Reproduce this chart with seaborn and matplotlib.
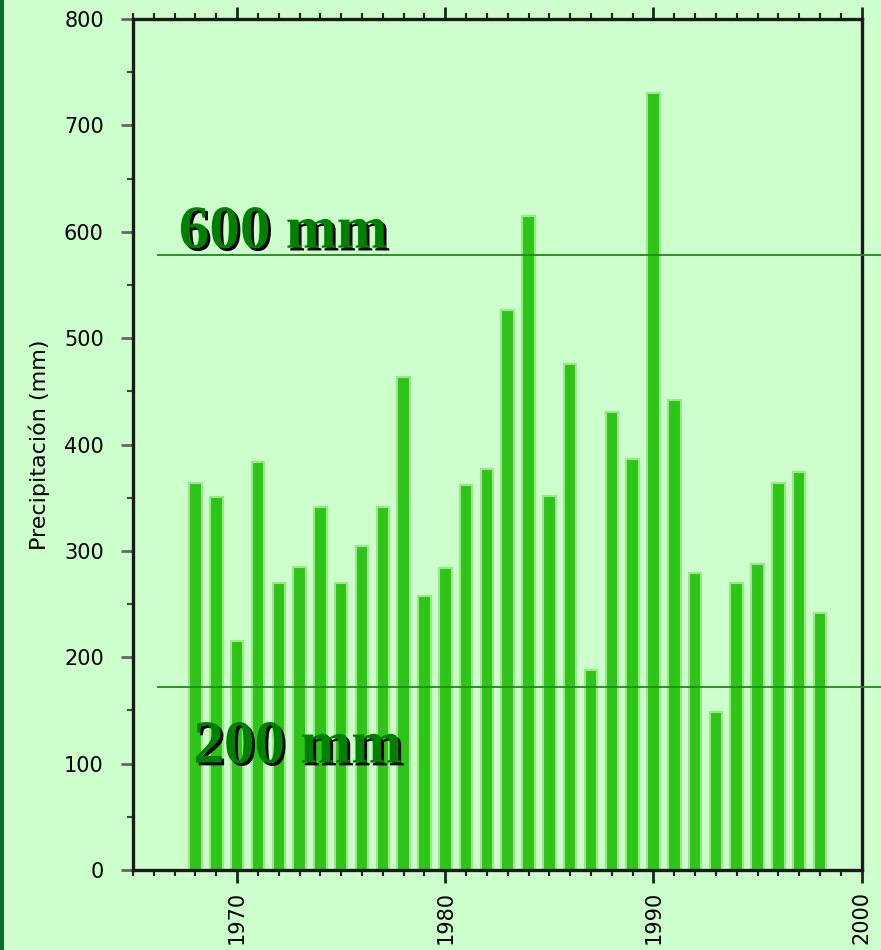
import numpy as np
import pandas as pd
import seaborn as sns
import matplotlib.pyplot as plt
import matplotlib.patheffects as pe
from matplotlib.patches import Rectangle
from matplotlib.ticker import MultipleLocator

# datos
anios = list(range(1968, 1999))
precip = [364, 351, 215, 384, 270, 285, 341, 270, 305, 341, 463,
          258, 284, 362, 377, 526, 615, 352, 476, 188, 431, 386,
          730, 442, 279, 149, 270, 288, 364, 374, 242]
niveles = [578, 172]
etiquetas = ['600 mm', '200 mm']

fondo = '#ccffcc'
verde_barra = '#2ec418'
verde_texto = '#008000'

sns.set_style('ticks')
plt.rcParams['font.family'] = ['DejaVu Sans']

df = pd.DataFrame({'anio': anios, 'precip': precip})

fig = plt.figure(figsize=(8.81, 9.5), dpi=100, facecolor=fondo)
# franja verde oscura del borde izquierdo
fig.add_artist(Rectangle((0, 0), 0.004, 1, transform=fig.transFigure,
                         color='#0f6b2a', lw=0))
ax = fig.add_axes([0.151, 0.0842, 0.827, 0.8958])
ax.set_facecolor(fondo)

sns.barplot(data=df, x='anio', y='precip', native_scale=True, width=0.6,
            color=verde_barra, edgecolor='#9be888', linewidth=1.5,
            saturation=1, ax=ax)

ax.set_xlim(1965, 2000)
ax.set_ylim(0, 800)

# lineas de referencia
for nivel in niveles:
    ax.hlines(nivel, 1966.15, 2001, colors='#1e8a1e', linewidth=1.3,
              clip_on=False, zorder=5)

sombra = [pe.withSimplePatchShadow(offset=(2, -2), shadow_rgbFace='black', alpha=1.0)]
ax.text(1967.2, 585, etiquetas[0], fontsize=44, fontweight='bold',
        family='Liberation Serif', color=verde_texto, path_effects=sombra, zorder=6)
ax.text(1967.9, 101, etiquetas[1], fontsize=44, fontweight='bold',
        family='Liberation Serif', color=verde_texto, path_effects=sombra, zorder=6)

ax.xaxis.set_major_locator(MultipleLocator(10))
ax.xaxis.set_minor_locator(MultipleLocator(1))
ax.yaxis.set_major_locator(MultipleLocator(100))
ax.yaxis.set_minor_locator(MultipleLocator(50))

ax.tick_params(axis='x', which='major', direction='out', length=9, width=2,
               labelsize=15, labelrotation=90, top=True, color='#222222',
               labelcolor='black', pad=6)
ax.tick_params(axis='x', which='minor', direction='out', length=4, width=1.5,
               top=True, color='#222222')
ax.tick_params(axis='y', which='major', direction='out', length=9, width=2,
               labelsize=15, color='#666666', labelcolor='black', pad=12)
ax.tick_params(axis='y', which='minor', direction='out', length=4, width=1.5,
               color='#444444')

for s in ax.spines.values():
    s.set_linewidth(2.4)
    s.set_color('#1a1a1a')

ax.set_xlabel('')
ax.set_ylabel('Precipitación (mm)', fontsize=16, labelpad=10, color='black')

fig.savefig('out.png', dpi=100, facecolor=fondo)
